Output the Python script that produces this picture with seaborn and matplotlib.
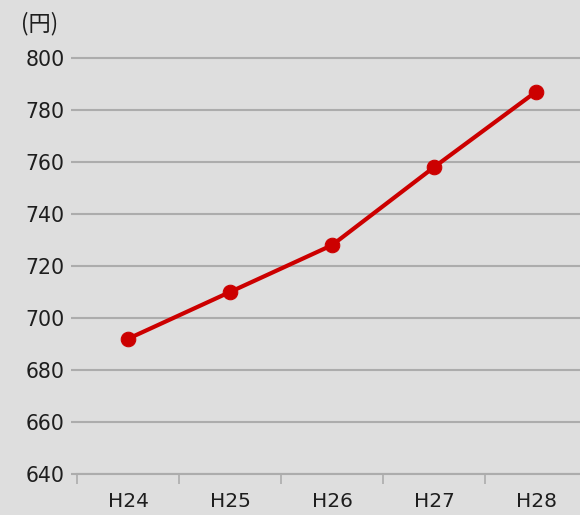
import matplotlib
matplotlib.use("Agg")
import matplotlib.pyplot as plt
import seaborn as sns
import pandas as pd

# data
years  = ["H24", "H25", "H26", "H27", "H28"]
prices = [692, 710, 728, 758, 787]
yticks = [640, 660, 680, 700, 720, 740, 760, 780, 800]

BG    = "#dedede"
GRID  = "#acacac"
RED   = "#cc0000"
TEXT  = "#1e1e1e"

sns.set_theme(style="white")
plt.rcParams["font.family"] = ["DejaVu Sans", "Noto Sans CJK JP"]

df = pd.DataFrame({"year": years, "price": prices})

fig = plt.figure(figsize=(5.8, 5.15), dpi=100, facecolor=BG)
# axes spans past the right edge like the original crop
ax = fig.add_axes([77 / 580, 1 - 474 / 515, 510 / 580, 474 / 515])
ax.set_facecolor(BG)

sns.lineplot(data=df, x="year", y="price", ax=ax, color=RED, lw=3.0,
             marker="o", markersize=10.5, markeredgecolor=RED, zorder=3)

ax.set_xlim(-0.5, 4.5)
ax.set_ylim(640, 822.3)
ax.set_yticks(yticks)
ax.yaxis.grid(True, color=GRID, lw=1.5)
ax.xaxis.grid(False)
ax.set_xlabel("")
ax.set_ylabel("")

for s in ["top", "right", "left"]:
    ax.spines[s].set_visible(False)
ax.spines["bottom"].set_color(GRID)
ax.spines["bottom"].set_linewidth(1.5)

ax.tick_params(axis="y", length=4, width=1.5, color=GRID, labelsize=14.8,
               labelcolor=TEXT, pad=5, left=True)
ax.tick_params(axis="x", which="major", length=0, labelsize=14.5,
               labelcolor=TEXT, pad=13)
ax.set_xticks([i - 0.5 for i in range(len(years))], minor=True)
ax.tick_params(axis="x", which="minor", length=7, width=1.2, color=GRID,
               bottom=True)

fig.text(21 / 580, 1 - 24 / 515, "(円)", fontsize=16, color=TEXT,
         ha="left", va="center", family=["Noto Sans CJK JP", "DejaVu Sans"])

fig.savefig("out.png", dpi=100, facecolor=BG)
